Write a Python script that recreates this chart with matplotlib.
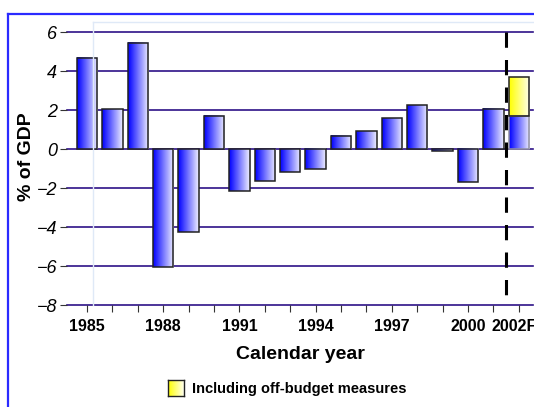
import numpy as np
import matplotlib.pyplot as plt
from matplotlib.colors import LinearSegmentedColormap
from matplotlib.lines import Line2D
from matplotlib.transforms import ScaledTranslation

# data
years = list(range(1985, 2003))
balance = [4.7, 2.05, 5.45, -6.05, -4.25, 1.7, -2.13, -1.61, -1.17, -1.03,
           0.67, 0.91, 1.58, 2.25, -0.08, -1.71, 2.07, 1.7]
offBudgetTop = 3.7          # 2002F including off-budget measures
tickLabelYears = [1985, 1988, 1991, 1994, 1997, 2000, 2002]
tickLabelText = ['1985', '1988', '1991', '1994', '1997', '2000', '2002F']
yTicks = [-8, -6, -4, -2, 0, 2, 4, 6]

plt.rcParams['font.family'] = ['Liberation Sans', 'DejaVu Sans']

blueMap = LinearSegmentedColormap.from_list('blueGrad', ['#0000ff', '#eeeeff'])
yellowMap = LinearSegmentedColormap.from_list('yellowGrad', ['#ffff00', '#ffffee'])
gradient = np.linspace(0, 1, 64).reshape(1, -1)

W, H = 534, 407
fig = plt.figure(figsize=(W / 100, H / 100), dpi=100)

left, right, top, bottom = 67, 533, 32.3, 305
ax = fig.add_axes([left / W, 1 - bottom / H, (right - left) / W, (bottom - top) / H])

# pale back wall lines
fig.add_artist(Line2D([93 / W, 93 / W], [1 - 22 / H, 1 - bottom / H], color='#dfe9f7', lw=1))
fig.add_artist(Line2D([93 / W, 1], [1 - 22 / H, 1 - 22 / H], color='#dfe9f7', lw=1))

for y in yTicks:
    ax.axhline(y, color='#2e1288', lw=1.2, zorder=1, clip_on=False)

barWidth = 0.8

def gradientBar(x, y0, y1, cmap, edge='#222222'):
    lo, hi = min(y0, y1), max(y0, y1)
    ax.imshow(gradient, cmap=cmap, aspect='auto', interpolation='bilinear',
              extent=[x - barWidth / 2, x + barWidth / 2, lo, hi], zorder=2)
    ax.bar(x, hi - lo, bottom=lo, width=barWidth, facecolor='none',
           edgecolor=edge, linewidth=1.1, zorder=3)

for yr, val in zip(years, balance):
    gradientBar(yr, 0, val, blueMap, edge='#222222' if yr != 2002 else '#9090a0')
gradientBar(2002, balance[-1], offBudgetTop, yellowMap)

ax.set_xlim(1984.21, 2002.56)
ax.set_ylim(-8, 6)

# forecast divider
ax.plot([2001.5, 2001.5], [6, -7.6], color='black', lw=2.2, dashes=(5, 4), zorder=4)

for s in ax.spines.values():
    s.set_visible(False)

ax.set_yticks(yTicks)
ax.set_yticklabels([str(v).replace('-', '\u2212') for v in yTicks], fontsize=13, style='italic')
ax.tick_params(axis='y', length=5, color='#333333', pad=2)

ax.set_xticks(years)
ax.set_xticklabels([tickLabelText[tickLabelYears.index(y)] if y in tickLabelYears else ''
                    for y in years], fontsize=11.5, fontweight='bold')
ax.tick_params(axis='x', length=5, color='#333333', pad=5)
lastLabel = ax.get_xticklabels()[-1]
lastLabel.set_transform(lastLabel.get_transform() + ScaledTranslation(-0.05, 0, fig.dpi_scale_trans))

ax.set_xlabel('Calendar year', fontsize=14, fontweight='bold', labelpad=9)
fig.text(27 / W, 1 - 157 / H, '% of GDP', rotation=90, fontsize=14, fontweight='bold',
         ha='center', va='center')

# outer blue frame
fig.add_artist(Line2D([8 / W, 1], [1 - 14 / H, 1 - 14 / H], color='#2b2bff', lw=1.6))
fig.add_artist(Line2D([8 / W, 8 / W], [1 - 14 / H, 0], color='#2b2bff', lw=1.6))

# legend
legAx = fig.add_axes([168 / W, 1 - 396 / H, 16 / W, 16 / H])
legAx.imshow(gradient, cmap=yellowMap, aspect='auto')
legAx.set_xticks([])
legAx.set_yticks([])
for s in legAx.spines.values():
    s.set_color('#222222')
    s.set_linewidth(1)
fig.text(192 / W, 1 - 389 / H, 'Including off-budget measures', fontsize=10.5, fontweight='bold',
         va='center', ha='left')

fig.savefig('out.png', dpi=100)
